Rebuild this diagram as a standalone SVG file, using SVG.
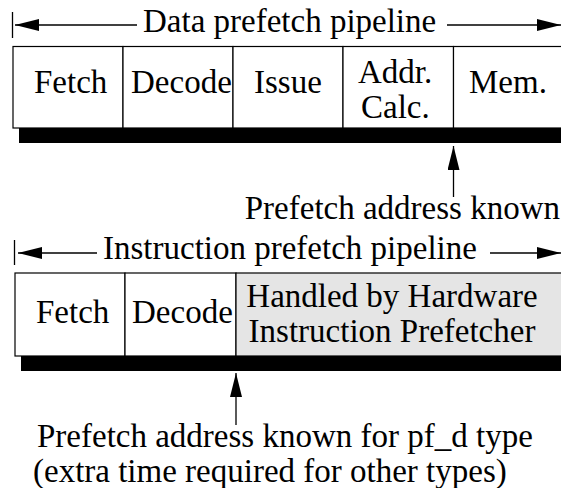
<svg xmlns="http://www.w3.org/2000/svg" width="561" height="488" viewBox="0 0 561 488">
<defs>
<style>
text{font-family:"Liberation Serif","Times New Roman",serif;font-size:33px;fill:#000}
.box{fill:#fff;stroke:#000;stroke-width:1.2}
.hw{fill:#e5e5e5;stroke:#000;stroke-width:1.2}
.bar{fill:#000}
.ln{stroke:#000;stroke-width:1.3;fill:none}
.arr{stroke:#000;stroke-width:1.3;fill:none;marker-end:url(#ah)}
.m{text-anchor:middle}
</style>
<marker id="ah" markerUnits="userSpaceOnUse" markerWidth="25" markerHeight="13" refX="24" refY="6" orient="auto" viewBox="0 0 25 13">
<path d="M0,0 L24,6 L0,12 z" fill="#000"/>
</marker>
</defs>
<rect width="561" height="488" fill="#fff"/>

<g id="data-pipeline-header">
<text x="143" y="32">Data prefetch pipeline</text>
</g>
<g id="data-shadow"><rect class="bar" x="19" y="128" width="545" height="15"/></g>
<g id="d-fetch"><rect class="box" x="13" y="46.5" width="110" height="81.5"/><text x="34" y="93">Fetch</text></g>
<g id="d-decode"><rect class="box" x="123" y="46.5" width="110" height="81.5"/><text x="131" y="93">Decode</text></g>
<g id="d-issue"><rect class="box" x="233" y="46.5" width="110" height="81.5"/><text x="254" y="93">Issue</text></g>
<g id="d-addr"><rect class="box" x="343" y="46.5" width="110.5" height="81.5"/><text x="358" y="83">Addr.</text><text x="361" y="118">Calc.</text></g>
<g id="d-mem"><rect class="box" x="453.5" y="46.5" width="112" height="81.5"/><text x="469" y="93">Mem.</text></g>
<g id="data-known-label"><text x="560" y="219" text-anchor="end">Prefetch address known</text></g>

<g id="inst-pipeline-header">
<text x="103" y="259">Instruction prefetch pipeline</text>
</g>
<g id="inst-shadow"><rect class="bar" x="21" y="356" width="545" height="15"/></g>
<g id="i-fetch"><rect class="box" x="15" y="273" width="110" height="83"/><text x="36" y="323">Fetch</text></g>
<g id="i-decode"><rect class="box" x="125" y="273" width="111" height="83"/><text x="132" y="323">Decode</text></g>
<g id="i-hw"><rect class="hw" x="236" y="273" width="330" height="83"/><text class="m" x="392" y="307">Handled by Hardware</text><text class="m" x="392" y="342">Instruction Prefetcher</text></g>
<g id="inst-known-label"><text x="37" y="447">Prefetch address known for pf_d type</text><text x="33" y="482">(extra time required for other types)</text></g>

<g id="connectors">
<line class="ln" x1="12.5" y1="12" x2="12.5" y2="38"/>
<path class="arr" d="M137,25 L15,25"/>
<path class="arr" d="M447,25 L561,25"/>
<line class="ln" x1="14.5" y1="240" x2="14.5" y2="265"/>
<path class="arr" d="M97,253 L18,253"/>
<path class="arr" d="M490,253 L561,253"/>
<path class="arr" d="M453.5,197 L453.5,146"/>
<path class="arr" d="M236,425 L236,373"/>
</g>
</svg>
